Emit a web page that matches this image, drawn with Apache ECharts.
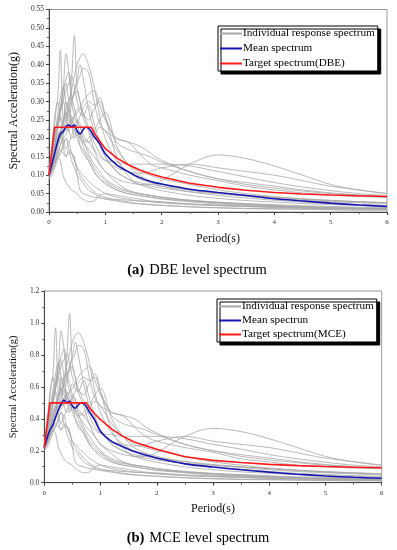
<!DOCTYPE html>
<html><head><meta charset="utf-8">
<script src="https://cdn.jsdelivr.net/npm/echarts@6/dist/echarts.min.js"></script>
<style>html,body{margin:0;padding:0;background:#fff}#c{width:397px;height:550px}</style>
</head><body><div id="c"></div>
<script>
// Period grid for the individual response spectra
var periodGrid = [0,0.05,0.1,0.15,0.2,0.25,0.3,0.35,0.4,0.45,0.5,0.55,0.6,0.7,0.8,0.9,1.0,1.2,1.4,1.6,1.8,2.0,2.5,3.0,3.5,4.0,4.5,5.0,5.5,6.0];

// (a) DBE individual spectra
var dbeG1 = [0.10,0.14,0.18,0.22,0.26,0.24,0.30,0.28,0.36,0.48,0.33,0.30,0.26,0.22,0.17,0.13,0.11,0.08,0.06,0.05,0.045,0.04,0.03,0.025,0.02,0.016,0.013,0.011,0.009,0.008];
var dbeG2 = [0.11,0.16,0.26,0.30,0.44,0.25,0.22,0.28,0.24,0.20,0.22,0.18,0.16,0.14,0.11,0.09,0.08,0.06,0.05,0.045,0.04,0.035,0.028,0.022,0.018,0.015,0.013,0.011,0.01,0.009];
var dbeG3 = [0.10,0.13,0.17,0.22,0.28,0.33,0.43,0.38,0.30,0.26,0.24,0.21,0.18,0.15,0.12,0.10,0.085,0.065,0.055,0.05,0.045,0.04,0.032,0.026,0.022,0.018,0.015,0.013,0.011,0.01];
var dbeG4 = [0.10,0.12,0.15,0.18,0.20,0.24,0.26,0.30,0.33,0.37,0.40,0.42,0.43,0.40,0.34,0.26,0.20,0.14,0.11,0.09,0.08,0.07,0.055,0.045,0.038,0.032,0.027,0.023,0.02,0.018];
var dbeG5 = [0.10,0.12,0.14,0.17,0.20,0.22,0.25,0.28,0.30,0.33,0.35,0.37,0.39,0.38,0.30,0.24,0.22,0.17,0.13,0.11,0.10,0.09,0.075,0.06,0.05,0.042,0.036,0.032,0.028,0.025];
var dbeG6 = [0.11,0.15,0.20,0.24,0.27,0.30,0.33,0.35,0.37,0.34,0.30,0.28,0.30,0.32,0.33,0.29,0.25,0.20,0.19,0.16,0.13,0.12,0.10,0.085,0.07,0.06,0.052,0.046,0.042,0.04];
var dbeG7 = [0.10,0.14,0.18,0.22,0.27,0.31,0.35,0.30,0.25,0.23,0.20,0.18,0.17,0.14,0.11,0.09,0.075,0.06,0.05,0.045,0.04,0.036,0.03,0.025,0.02,0.017,0.014,0.012,0.01,0.009];
var dbeG8 = [0.10,0.11,0.13,0.15,0.16,0.18,0.20,0.19,0.21,0.22,0.24,0.26,0.28,0.30,0.29,0.31,0.26,0.15,0.10,0.075,0.075,0.085,0.13,0.155,0.145,0.125,0.10,0.075,0.06,0.05];
var dbeG9 = [0.09,0.10,0.12,0.14,0.16,0.18,0.20,0.17,0.14,0.12,0.10,0.09,0.08,0.06,0.05,0.04,0.035,0.03,0.025,0.022,0.02,0.018,0.014,0.011,0.009,0.008,0.007,0.006,0.005,0.005];
var dbeG10 = [0.10,0.12,0.13,0.15,0.14,0.10,0.08,0.07,0.06,0.055,0.05,0.04,0.035,0.028,0.03,0.045,0.05,0.045,0.04,0.035,0.03,0.028,0.022,0.018,0.015,0.012,0.01,0.009,0.008,0.007];
var dbeG11 = [0.10,0.15,0.20,0.25,0.28,0.30,0.26,0.22,0.24,0.22,0.25,0.24,0.20,0.16,0.13,0.11,0.09,0.07,0.058,0.05,0.045,0.04,0.032,0.027,0.023,0.02,0.017,0.015,0.013,0.012];
var dbeG12 = [0.11,0.14,0.18,0.23,0.28,0.33,0.36,0.38,0.32,0.28,0.25,0.23,0.21,0.19,0.17,0.15,0.14,0.135,0.13,0.13,0.13,0.13,0.125,0.11,0.095,0.08,0.068,0.058,0.05,0.045];
var dbeG13 = [0.10,0.12,0.15,0.19,0.22,0.25,0.28,0.30,0.31,0.32,0.33,0.30,0.27,0.25,0.28,0.30,0.26,0.19,0.17,0.16,0.15,0.135,0.11,0.09,0.075,0.065,0.057,0.05,0.045,0.04];
var dbeG14 = [0.10,0.13,0.16,0.19,0.22,0.21,0.23,0.22,0.20,0.21,0.22,0.21,0.20,0.19,0.21,0.23,0.22,0.20,0.19,0.18,0.16,0.14,0.11,0.09,0.08,0.07,0.06,0.052,0.046,0.042];
var dbeG15 = [0.11,0.18,0.24,0.30,0.26,0.20,0.17,0.19,0.16,0.14,0.12,0.10,0.09,0.07,0.055,0.045,0.04,0.032,0.027,0.023,0.02,0.018,0.014,0.012,0.01,0.009,0.008,0.007,0.006,0.006];
var dbeG16 = [0.10,0.11,0.13,0.16,0.18,0.21,0.23,0.24,0.26,0.24,0.22,0.20,0.19,0.17,0.15,0.13,0.11,0.09,0.08,0.075,0.07,0.065,0.055,0.05,0.045,0.04,0.035,0.03,0.027,0.025];
var dbeG17 = [0.10,0.12,0.14,0.16,0.18,0.20,0.21,0.23,0.25,0.26,0.27,0.28,0.27,0.23,0.19,0.16,0.14,0.12,0.11,0.105,0.11,0.12,0.13,0.12,0.11,0.1,0.085,0.07,0.06,0.05];
var dbeG18 = [0.09,0.11,0.13,0.15,0.17,0.16,0.15,0.17,0.16,0.14,0.12,0.11,0.10,0.085,0.07,0.06,0.05,0.04,0.035,0.03,0.028,0.025,0.02,0.017,0.015,0.013,0.011,0.01,0.009,0.008];
var dbeG19 = [0.10,0.12,0.15,0.18,0.21,0.24,0.27,0.26,0.29,0.33,0.36,0.40,0.37,0.28,0.22,0.18,0.15,0.11,0.09,0.075,0.065,0.058,0.045,0.037,0.031,0.027,0.023,0.02,0.018,0.016];
var dbeG20 = [0.10,0.12,0.15,0.18,0.21,0.24,0.27,0.25,0.23,0.22,0.21,0.20,0.19,0.20,0.22,0.25,0.27,0.18,0.13,0.10,0.085,0.075,0.06,0.05,0.043,0.037,0.032,0.028,0.025,0.022];
var dbeG21 = [0.10,0.14,0.18,0.20,0.22,0.18,0.15,0.16,0.16,0.15,0.10,0.06,0.05,0.045,0.04,0.038,0.036,0.034,0.032,0.03,0.028,0.026,0.022,0.019,0.016,0.014,0.012,0.011,0.01,0.009];
var dbeG22 = [0.11,0.15,0.20,0.26,0.31,0.34,0.30,0.27,0.24,0.26,0.28,0.27,0.26,0.29,0.24,0.19,0.15,0.11,0.09,0.08,0.075,0.07,0.06,0.052,0.046,0.04,0.035,0.031,0.028,0.026];

// (b) MCE individual spectra
var mceG1 = [0.22,0.31,0.40,0.48,0.57,0.53,0.66,0.62,0.79,1.06,0.73,0.66,0.57,0.48,0.37,0.29,0.24,0.18,0.13,0.11,0.1,0.088,0.066,0.055,0.044,0.035,0.029,0.024,0.02,0.018];
var mceG2 = [0.24,0.35,0.57,0.66,0.97,0.55,0.48,0.62,0.53,0.44,0.48,0.40,0.35,0.31,0.24,0.2,0.18,0.13,0.11,0.1,0.088,0.077,0.062,0.048,0.04,0.033,0.029,0.024,0.022,0.02];
var mceG3 = [0.22,0.29,0.37,0.48,0.62,0.73,0.95,0.84,0.66,0.57,0.53,0.46,0.40,0.33,0.26,0.22,0.19,0.14,0.12,0.11,0.1,0.088,0.07,0.057,0.048,0.04,0.033,0.029,0.024,0.022];
var mceG4 = [0.22,0.26,0.33,0.40,0.44,0.53,0.57,0.66,0.73,0.81,0.88,0.92,0.94,0.88,0.75,0.57,0.44,0.31,0.24,0.2,0.18,0.15,0.12,0.1,0.084,0.07,0.059,0.051,0.044,0.04];
var mceG5 = [0.22,0.26,0.31,0.37,0.44,0.48,0.55,0.62,0.66,0.73,0.77,0.81,0.86,0.84,0.66,0.53,0.48,0.37,0.29,0.24,0.22,0.2,0.165,0.13,0.11,0.092,0.079,0.07,0.062,0.055];
var mceG6 = [0.24,0.33,0.44,0.53,0.59,0.66,0.73,0.77,0.81,0.75,0.66,0.62,0.66,0.70,0.73,0.64,0.55,0.44,0.42,0.35,0.29,0.26,0.22,0.19,0.15,0.13,0.11,0.1,0.092,0.088];
var mceG7 = [0.22,0.31,0.40,0.48,0.59,0.68,0.77,0.66,0.55,0.51,0.44,0.40,0.37,0.31,0.24,0.2,0.165,0.13,0.11,0.1,0.088,0.079,0.066,0.055,0.044,0.037,0.031,0.026,0.022,0.02];
var mceG8 = [0.22,0.24,0.29,0.33,0.35,0.40,0.44,0.42,0.46,0.48,0.53,0.57,0.62,0.66,0.64,0.68,0.57,0.33,0.22,0.165,0.165,0.19,0.29,0.34,0.32,0.275,0.22,0.165,0.13,0.11];
var mceG9 = [0.2,0.22,0.26,0.31,0.35,0.40,0.44,0.37,0.31,0.26,0.22,0.2,0.18,0.13,0.11,0.088,0.077,0.066,0.055,0.048,0.044,0.04,0.031,0.024,0.02,0.018,0.015,0.013,0.011,0.011];
var mceG10 = [0.22,0.26,0.29,0.33,0.31,0.22,0.18,0.15,0.13,0.12,0.11,0.088,0.077,0.062,0.066,0.099,0.11,0.099,0.088,0.077,0.066,0.062,0.048,0.04,0.033,0.026,0.022,0.02,0.018,0.015];
var mceG11 = [0.22,0.33,0.44,0.55,0.62,0.66,0.57,0.48,0.53,0.48,0.55,0.53,0.44,0.35,0.29,0.24,0.2,0.15,0.128,0.11,0.1,0.088,0.07,0.059,0.051,0.044,0.037,0.033,0.029,0.026];
var mceG12 = [0.24,0.31,0.40,0.51,0.62,0.73,0.79,0.84,0.70,0.62,0.55,0.51,0.46,0.42,0.37,0.33,0.31,0.3,0.29,0.29,0.29,0.29,0.275,0.24,0.21,0.176,0.15,0.128,0.11,0.1];
var mceG13 = [0.22,0.26,0.33,0.42,0.48,0.55,0.62,0.66,0.68,0.70,0.73,0.66,0.59,0.55,0.62,0.66,0.57,0.42,0.37,0.35,0.33,0.3,0.24,0.2,0.165,0.143,0.125,0.11,0.1,0.088];
var mceG14 = [0.22,0.29,0.35,0.42,0.48,0.46,0.51,0.48,0.44,0.46,0.48,0.46,0.44,0.42,0.46,0.51,0.48,0.44,0.42,0.4,0.35,0.31,0.24,0.2,0.176,0.154,0.132,0.114,0.1,0.092];
var mceG15 = [0.24,0.4,0.53,0.66,0.57,0.44,0.37,0.42,0.35,0.31,0.26,0.22,0.2,0.154,0.121,0.099,0.088,0.07,0.059,0.051,0.044,0.04,0.031,0.026,0.022,0.02,0.018,0.015,0.013,0.013];
var mceG16 = [0.22,0.24,0.29,0.35,0.4,0.46,0.51,0.53,0.57,0.53,0.48,0.44,0.42,0.37,0.33,0.29,0.24,0.2,0.176,0.165,0.154,0.143,0.121,0.11,0.099,0.088,0.077,0.066,0.059,0.055];
var mceG17 = [0.22,0.26,0.31,0.35,0.4,0.44,0.46,0.51,0.55,0.57,0.59,0.62,0.59,0.51,0.42,0.35,0.31,0.26,0.24,0.23,0.24,0.26,0.29,0.26,0.24,0.22,0.187,0.154,0.132,0.11];
var mceG18 = [0.2,0.24,0.29,0.33,0.37,0.35,0.33,0.37,0.35,0.31,0.26,0.24,0.22,0.187,0.154,0.132,0.11,0.088,0.077,0.066,0.062,0.055,0.044,0.037,0.033,0.029,0.024,0.022,0.02,0.018];
var mceG19 = [0.22,0.26,0.33,0.4,0.46,0.53,0.59,0.57,0.64,0.73,0.79,0.88,0.81,0.62,0.48,0.4,0.33,0.24,0.2,0.165,0.143,0.128,0.099,0.081,0.068,0.059,0.051,0.044,0.04,0.035];
var mceG20 = [0.22,0.26,0.33,0.4,0.46,0.53,0.59,0.55,0.51,0.48,0.46,0.44,0.42,0.44,0.48,0.55,0.59,0.4,0.29,0.22,0.187,0.165,0.132,0.11,0.095,0.081,0.07,0.062,0.055,0.048];
var mceG21 = [0.22,0.31,0.4,0.44,0.48,0.4,0.33,0.35,0.35,0.33,0.22,0.13,0.11,0.099,0.088,0.084,0.079,0.075,0.07,0.066,0.062,0.057,0.048,0.042,0.035,0.031,0.026,0.024,0.022,0.02];
var mceG22 = [0.24,0.33,0.44,0.57,0.68,0.75,0.66,0.59,0.53,0.57,0.62,0.59,0.57,0.64,0.53,0.42,0.33,0.24,0.2,0.176,0.165,0.154,0.132,0.114,0.1,0.088,0.077,0.068,0.062,0.057];

// Mean spectra
var meanPeriods = [0,0.05,0.1,0.15,0.2,0.25,0.3,0.35,0.4,0.45,0.5,0.55,0.6,0.65,0.7,0.75,0.8,0.9,1.0,1.2,1.4,1.6,1.8,2.0,2.5,3.0,3.5,4.0,4.5,5.0,5.5,6.0];
var dbeMean = [0.1,0.13,0.16,0.19,0.212,0.218,0.232,0.236,0.232,0.236,0.22,0.212,0.222,0.23,0.228,0.218,0.205,0.185,0.158,0.128,0.11,0.094,0.083,0.076,0.062,0.053,0.045,0.036,0.03,0.024,0.019,0.015];
var mceMean = [0.22,0.28,0.33,0.36,0.41,0.455,0.49,0.518,0.5,0.51,0.48,0.466,0.485,0.5,0.495,0.475,0.445,0.39,0.32,0.257,0.225,0.195,0.173,0.155,0.118,0.098,0.081,0.066,0.053,0.042,0.034,0.028];

// Target spectra
var targetPeriods = [0,0.1,0.75,0.8,0.9,1.0,1.2,1.4,1.6,1.8,2.0,2.5,3.0,3.5,4.0,4.5,5.0,5.5,6.0];
var dbeTarget = [0.1,0.23,0.23,0.215,0.193,0.172,0.147,0.129,0.115,0.104,0.095,0.078,0.067,0.059,0.053,0.049,0.046,0.044,0.042];
var mceTarget = [0.22,0.5,0.5,0.47,0.43,0.395,0.335,0.29,0.255,0.232,0.21,0.162,0.14,0.126,0.115,0.107,0.101,0.097,0.094];

// Tick labels
var xTicks = ['0','1','2','3','4','5','6'];

var dbeGray = [dbeG1,dbeG2,dbeG3,dbeG4,dbeG5,dbeG6,dbeG7,dbeG8,dbeG9,dbeG10,dbeG11,dbeG12,dbeG13,dbeG14,dbeG15,dbeG16,dbeG17,dbeG18,dbeG19,dbeG20,dbeG21,dbeG22];
var mceGray = [mceG1,mceG2,mceG3,mceG4,mceG5,mceG6,mceG7,mceG8,mceG9,mceG10,mceG11,mceG12,mceG13,mceG14,mceG15,mceG16,mceG17,mceG18,mceG19,mceG20,mceG21,mceG22];

var FONT = 'Liberation Serif';
var GRAY = '#a8a8a8', BLUE = '#1515b0', RED = '#ff1a1a';
function pairs(xs, ys){ return xs.map(function(x,i){ return [x, ys[i]]; }); }

var series = [];
function addSet(gray, mean, target, idx, meanName, targetName){
  gray.forEach(function(arr){
    series.push({type:'line', name:'Individual response spectrum', xAxisIndex:idx, yAxisIndex:idx,
      data:pairs(periodGrid, arr), smooth:0.35, symbol:'none', silent:true,
      itemStyle:{color:GRAY}, lineStyle:{color:GRAY, width:0.8}, z:1});
  });
  series.push({type:'line', name:meanName, xAxisIndex:idx, yAxisIndex:idx,
    data:pairs(meanPeriods, mean), smooth:0.3, symbol:'none',
    itemStyle:{color:BLUE}, lineStyle:{color:BLUE, width:1.6}, z:3});
  series.push({type:'line', name:targetName, xAxisIndex:idx, yAxisIndex:idx,
    data:pairs(targetPeriods, target), smooth:false, symbol:'none',
    itemStyle:{color:RED}, lineStyle:{color:RED, width:1.6}, z:4});
}
addSet(dbeGray, dbeMean, dbeTarget, 0, 'Mean spectrum', 'Target spectrum(DBE)');
addSet(mceGray, mceMean, mceTarget, 1, 'Mean spectrun', 'Target spectrum(MCE)');

function xAxis(idx, gap){
  return {type:'value', gridIndex:idx, min:0, max:6, interval:1,
    name:'Period(s)', nameLocation:'middle', nameGap:gap,
    nameTextStyle:{fontFamily:FONT, fontSize:12, color:'#111'},
    axisLine:{lineStyle:{color:'#444', width:1}},
    axisTick:{length:3, lineStyle:{color:'#444'}},
    minorTick:{show:true, splitNumber:2, length:2, lineStyle:{color:'#666'}},
    splitLine:{show:false},
    axisLabel:{fontFamily:FONT, fontSize:7, color:'#333', margin:7,
      formatter:function(v){ return xTicks[Math.round(v)]; }}};
}
function yAxis(idx, max, interval, dec, gap, nfs){
  return {type:'value', gridIndex:idx, min:0, max:max, interval:interval,
    name:'Spectral Acceleration(g)', nameLocation:'middle', nameGap:gap,
    nameTextStyle:{fontFamily:FONT, fontSize:nfs, color:'#111'},
    axisLine:{show:true, lineStyle:{color:'#444', width:1}},
    axisTick:{show:true, length:3, lineStyle:{color:'#444'}},
    minorTick:{show:true, splitNumber:2, length:2, lineStyle:{color:'#666'}},
    splitLine:{show:false},
    axisLabel:{fontFamily:FONT, fontSize:7.5, color:'#333', margin:5,
      formatter:function(v){ return v.toFixed(dec); }}};
}
function legend(left, top, names, gap){
  return {orient:'vertical', left:left, top:top, data:names, selectedMode:false,
    itemWidth:22, itemHeight:12, itemGap:gap, padding:[2,3,2,1],
    backgroundColor:'#fff', borderColor:'#000', borderWidth:1,
    shadowColor:'#000', shadowBlur:0, shadowOffsetX:3, shadowOffsetY:3,
    itemStyle:{color:'rgba(0,0,0,0)', borderWidth:0, opacity:0},
    textStyle:{fontFamily:FONT, fontSize:11.2, color:'#000', padding:[0,0,0,-4]}};
}

var option = {
  backgroundColor:'#fff',
  animation:false,
  grid:[
    {left:49, top:9.5, width:338, height:202.5, show:true, borderColor:'#999', borderWidth:1, containLabel:false},
    {left:42.3, top:291, width:339.4, height:191.7, show:true, borderColor:'#999', borderWidth:1, containLabel:false}
  ],
  xAxis:[xAxis(0, 21), xAxis(1, 20)],
  yAxis:[yAxis(0, 0.55, 0.05, 2, 29, 12), yAxis(1, 1.2, 0.2, 1, 25, 10.5)],
  legend:[
    legend(218, 26, ['Individual response spectrum','Mean spectrum','Target spectrum(DBE)'], 4),
    legend(217, 299, ['Individual response spectrum','Mean spectrun','Target spectrum(MCE)'], 3)
  ],
  title:[
    {text:'{b|(a)} {n|DBE level spectrum}', left:192, top:256, textAlign:'center',
      textStyle:{fontWeight:'normal', rich:{b:{fontFamily:FONT, fontSize:14.5, fontWeight:'bold', color:'#000'}, n:{fontFamily:FONT, fontSize:14.5, fontWeight:'normal', color:'#000'}}}},
    {text:'{b|(b)} {n|MCE level spectrum}', left:193, top:524, textAlign:'center',
      textStyle:{fontWeight:'normal', rich:{b:{fontFamily:FONT, fontSize:14.5, fontWeight:'bold', color:'#000'}, n:{fontFamily:FONT, fontSize:14.5, fontWeight:'normal', color:'#000'}}}}
  ],
  series:series
};
var chart = echarts.init(document.getElementById('c'), null, {renderer:'canvas'});
chart.setOption(option);
</script></body></html>
